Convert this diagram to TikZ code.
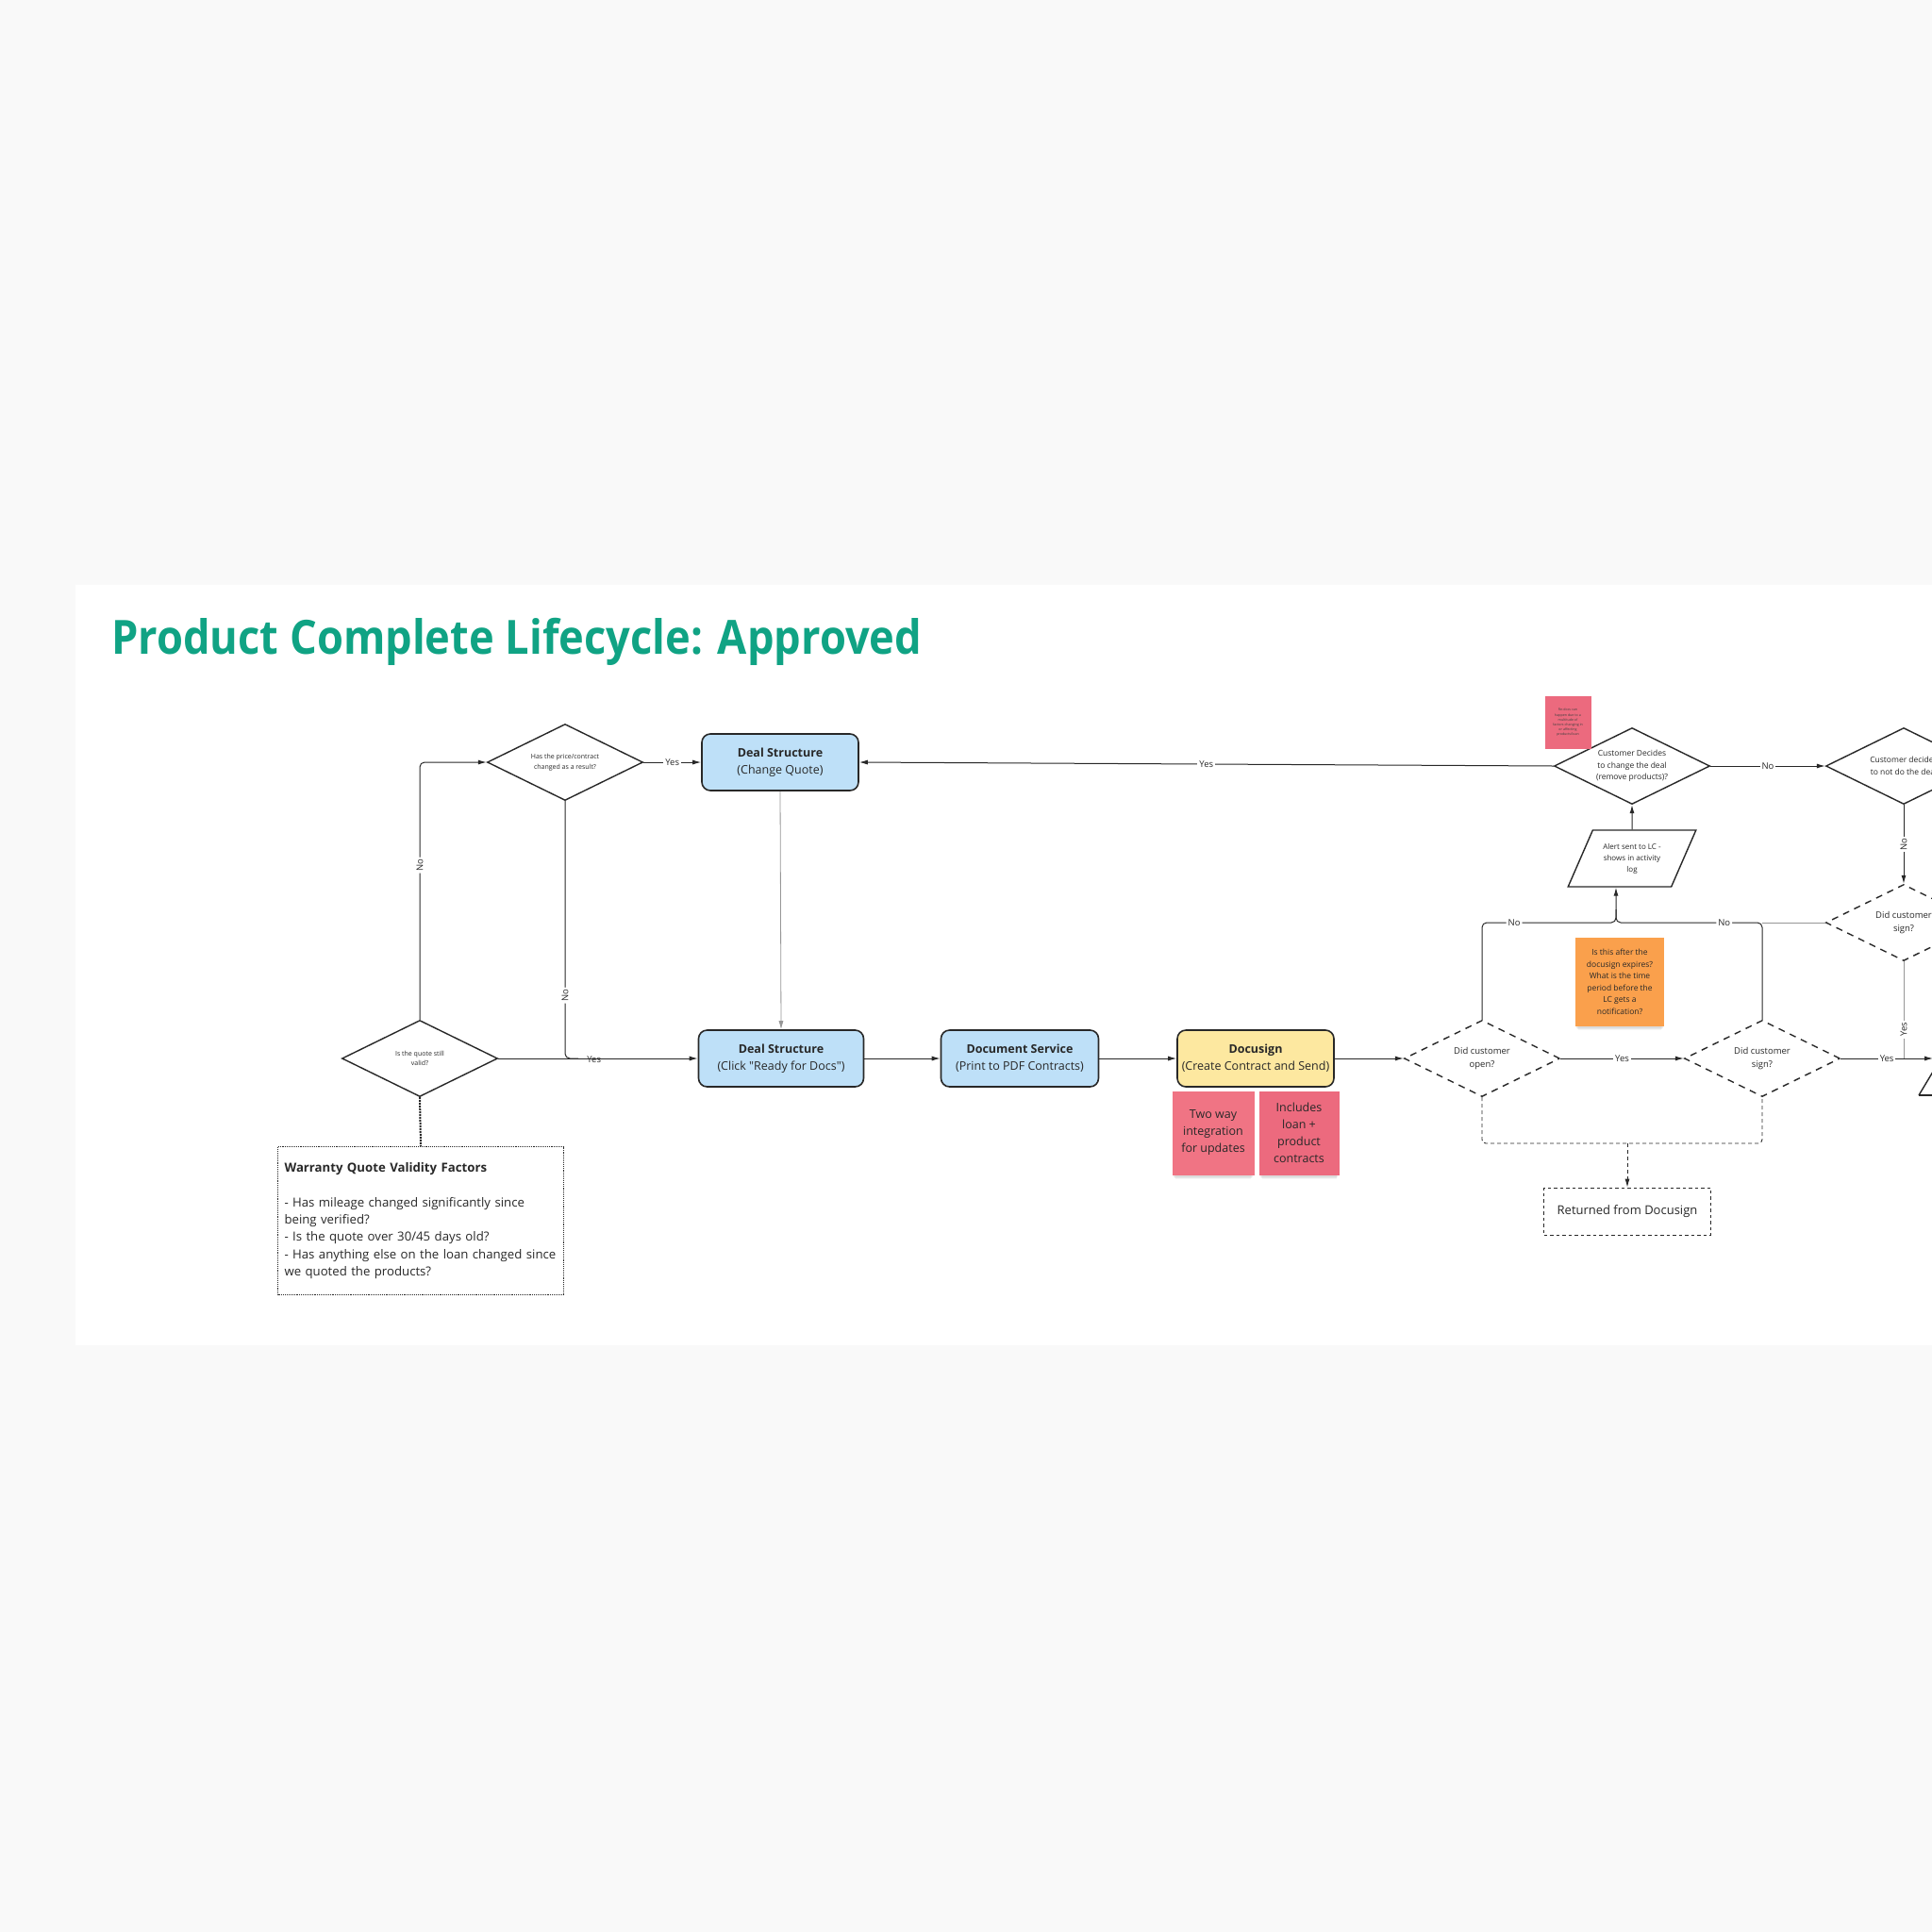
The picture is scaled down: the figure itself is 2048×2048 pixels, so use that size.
\documentclass[tikz,border=0pt]{standalone}
\usepackage{fontspec}
\setmainfont{Open Sans}[Ligatures=TeXOff]
\usetikzlibrary{arrows.meta,shapes.geometric,shadows,calc}
\definecolor{pagebg}{RGB}{249,249,249}
\definecolor{titlegreen}{RGB}{16,163,132}
\definecolor{linec}{RGB}{40,40,40}
\definecolor{boxblue}{RGB}{190,224,248}
\definecolor{docyellow}{RGB}{253,232,160}
\definecolor{pinkA}{RGB}{240,116,132}
\definecolor{pinkB}{RGB}{236,106,126}
\definecolor{orangeS}{RGB}{250,160,76}
\definecolor{thinline}{RGB}{150,150,150}
\newcommand\fsz[2]{\fontsize{#1}{#2}\selectfont}
\tikzset{
  box/.style={draw=linec, line width=1.6pt, rounded corners=9pt, minimum width=166pt, minimum height=60pt, align=center, inner sep=2pt, text=linec, font=\fsz{12.5}{18}},
  bluebox/.style={box, fill=boxblue},
  dec/.style={diamond, shape aspect=2, draw=linec, line width=1.4pt, minimum width=165pt, minimum height=81pt, inner sep=0pt, align=center, fill=white, text=linec},
  ddec/.style={dec, dash pattern=on 7pt off 6pt},
  softshadow/.style={
    drop shadow={shadow xshift=0pt, shadow yshift=-8pt, opacity=0.07, shadow scale=0.93},
    drop shadow={shadow xshift=0pt, shadow yshift=-6pt, opacity=0.10, shadow scale=0.95},
    drop shadow={shadow xshift=0pt, shadow yshift=-4pt, opacity=0.13, shadow scale=0.97}},
  sticky/.style={minimum width=87pt, minimum height=89pt, align=center, inner sep=3pt, text=linec, font=\fsz{12.5}{18}, softshadow},
  conn/.style={draw=linec, line width=1pt, -{Latex[length=9pt,width=5pt]}},
  plainc/.style={draw=linec, line width=1pt},
  grayc/.style={draw=thinline, line width=0.8pt},
  dashc/.style={draw=linec, line width=0.9pt, dash pattern=on 4pt off 3pt},
  lab/.style={fill=white, inner sep=2pt, text=linec, font=\fsz{9.5}{11}},
}
\begin{document}
\begin{tikzpicture}[x=1pt, y=-1pt]
\useasboundingbox (0,0) rectangle (2048,2048);
\clip (0,0) rectangle (2048,2048);
\fill[pagebg] (0,0) rectangle (2048,2048);
\fill[white] (80,620) rectangle (2048,1426);
\node[anchor=base west, text=titlegreen, font=\fsz{50}{60}\bfseries, inner sep=0pt] (title) at (118,693) {\scalebox{0.905}[1]{Product Complete Lifecycle: Approved}};

% nodes
\node[dec, font=\fsz{7}{10.5}] (hp) at (599,808) {Has the price/contract\\changed as a result?};
\node[bluebox] (cq) at (827,808) {\textbf{Deal Structure}\\(Change Quote)};
\node[dec, font=\fsz{7}{10.5}] (qv) at (445,1122) {Is the quote still\\valid?};
\node[bluebox, minimum width=175pt] (rd) at (828,1122) {\textbf{Deal Structure}\\(Click "Ready for Docs")};
\node[bluebox, minimum width=167pt] (ds) at (1081,1122) {\textbf{Document Service}\\(Print to PDF Contracts)};
\node[box, fill=docyellow] (dg) at (1331,1122) {\textbf{Docusign}\\(Create Contract and Send)};
\node[sticky, fill=pinkA] (s1) at (1286,1201) {Two way\\integration\\for updates};
\node[sticky, fill=pinkB, minimum width=85pt] (s2) at (1377,1201) {Includes\\loan +\\product\\contracts};
\node[draw=linec, densely dotted, line width=0.9pt, minimum width=303pt, minimum height=157pt, text width=289pt, align=left, inner sep=0pt, text=linec, font=\fsz{13.2}{18.3}] (wq) at (446,1294)
  {\textbf{Warranty Quote Validity Factors}\\[18.3pt]- Has mileage changed significantly since\\being verified?\\- Is the quote over 30/45 days old?\\- Has anything else on the loan changed since\\we quoted the products?};

\node[ddec, font=\fsz{9.5}{14}] (op) at (1571,1122) {Did customer\\open?};
\node[ddec, font=\fsz{9.5}{14}] (sg) at (1868,1122) {Did customer\\sign?};
\node[ddec, font=\fsz{9.5}{14}] (sg2) at (2018,978) {Did customer\\sign?};
\node[sticky, fill=orangeS, minimum width=94pt, minimum height=94pt, font=\fsz{8.5}{12.5}] (os) at (1717,1041) {Is this after the\\docusign expires?\\What is the time\\period before the\\LC gets a\\notification?};
\node[draw=linec, dash pattern=on 3.5pt off 3pt, line width=0.9pt, minimum width=177pt, minimum height=50pt, text=linec, font=\fsz{13}{16}] (rt) at (1725,1284) {Returned from Docusign};
\node[trapezium, trapezium left angle=59, trapezium right angle=121, trapezium stretches=true, draw=linec, line width=1.4pt, minimum width=136pt, minimum height=60pt, align=center, inner sep=0pt, text=linec, font=\fsz{8}{12}, fill=white] (al) at (1730,910) {Alert sent to LC -\\shows in activity\\log};
\node[dec, font=\fsz{8.5}{12.4}] (cd) at (1730,812) {Customer Decides\\to change the deal\\(remove products)?};
\node[dec, font=\fsz{8.5}{12.4}] (cn) at (2018,812) {Customer decides\\to not do the deal};
\node[fill=pinkB, minimum width=49pt, minimum height=56pt, inner sep=1pt, align=center, text=black!75, font=\fsz{3.6}{5.2}] (tp) at (1662,766) {Re-docs can\\happen due to a\\multitude of\\factors changing in\\or affecting\\products/loan};

% partial triangle at right edge
\draw[linec, line width=1.4pt] (2034,1161) -- (2052,1131);
\draw[linec, line width=1.4pt] (2034,1161) -- (2070,1161);

% connectors
\draw[conn, rounded corners=5pt] (qv.north) |- (hp.west) node[lab, rotate=90, pos=0.3] {No};
\draw[conn] (hp.east) -- (cq.west) node[lab, midway] {Yes};
\coordinate (j1) at (hp.south |- rd.west);
\draw[plainc, rounded corners=5pt] (hp.south) -- (j1) node[lab, rotate=90, pos=0.755] {No} -- ++(14,0);
\draw[conn] (qv.east) -- (rd.west) node[pos=0.48, text=linec, font=\fsz{9.5}{11}, inner sep=0pt, yshift=-1pt] {Yes};
\draw[grayc, -{Latex[length=9pt,width=5pt]}] (cq.south) -- (rd.north);
\draw[conn] (rd.east) -- (ds.west);
\draw[conn] (ds.east) -- (dg.west);
\draw[conn] (dg.east) -- (op.west);
\draw[conn] (op.east) -- (sg.west) node[lab, midway] {Yes};
\coordinate (rend) at (2049,1122);
\draw[conn] (sg.east) -- (rend) node[lab, pos=0.5] {Yes};
\coordinate (jn) at (1713,978);
\draw[conn, rounded corners=5pt] (op.north) |- (jn) node[lab, pos=0.62] {No} -- (jn |- al.south);
\draw[plainc, rounded corners=5pt] (sg.north) |- (jn) node[lab, pos=0.63] {No} -- ++(0,-14);
\draw[grayc] (sg2.west) -- (sg.north |- sg2.west);
\draw[grayc] (sg2.south) -- (sg2.south |- rend) node[lab, rotate=90, pos=0.7] {Yes};
\draw[conn] (al.north) -- (cd.south);
\draw[conn] (cd.west) -- (cq.east) node[lab, pos=0.5] {Yes};
\draw[conn] (cd.east) -- (cn.west) node[lab, midway] {No};
\draw[conn] (cn.south) -- (sg2.north) node[lab, rotate=90, midway] {No};
\coordinate (rj) at (1725,1212);
\draw[dashc, rounded corners=4pt] (op.south) |- (rj) -| (sg.south);
\draw[dashc, -{Latex[length=9pt,width=5pt]}] (rj) -- (rt.north);
\draw[linec, densely dotted, line width=2pt] (qv.south) -- (wq.north);
\end{tikzpicture}
\end{document}
